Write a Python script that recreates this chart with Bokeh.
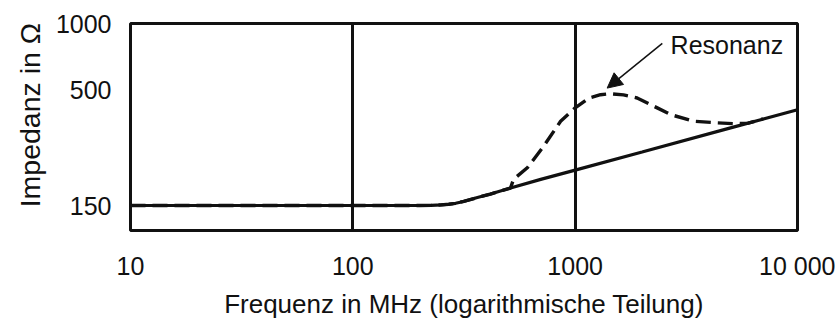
from bokeh.plotting import figure
from bokeh.models import FixedTicker, Arrow, NormalHead, Label
from bokeh.embed import file_html
from bokeh.resources import INLINE

# frequency axis (MHz) and impedance (Ohm), log-log
x_ticks = [10, 100, 1000, 10000]
x_tick_labels = ["10", "100", "1000", "10 000"]
y_ticks = [150, 500, 1000]
y_tick_labels = ["150", "500", "1000"]
grid_freqs = [100, 1000]

solid_f = [10, 100, 200, 225, 250, 270, 290, 315, 360, 416, 512, 700, 1000, 2000, 5000, 10000]
solid_z = [150, 150, 150, 150.3, 151, 152, 153.5, 156.5, 162.5, 169, 180, 197, 217, 262, 337, 407]

dashed_f = [10, 100, 200, 225, 250, 270, 290, 315, 360, 416, 512, 528, 611, 721, 860, 1000,
            1154, 1300, 1443, 1650, 1900, 2339, 2686, 3411, 4355, 5200, 6000, 7000]
dashed_z = [150, 150, 150, 150.3, 151, 152, 153.5, 156.5, 162.5, 169, 180, 197, 223, 278, 361, 415,
            460, 476, 481, 475, 460, 415, 387, 361, 355, 352, 354, 370]

annot_text = "Resonanz"
annot_pos = (2686, 799)
arrow_start = (2466, 813)
arrow_end = (1393, 510)

FONT = "Liberation Sans"
INK = "#111111"

p = figure(width=835, height=321, x_axis_type="log", y_axis_type="log",
           x_range=(10, 10000), y_range=(115.6, 1000),
           output_backend="svg", toolbar_location=None,
           min_border_left=130, min_border_right=38, min_border_top=23,
           min_border_bottom=89)

p.outline_line_color = INK
p.outline_line_width = 3
p.background_fill_color = "white"
p.border_fill_color = "white"

p.xgrid.ticker = FixedTicker(ticks=grid_freqs)
p.xgrid.grid_line_color = INK
p.xgrid.grid_line_width = 3
p.xgrid.minor_grid_line_color = None
p.ygrid.grid_line_color = None

p.xaxis.ticker = FixedTicker(ticks=x_ticks)
p.xaxis.major_label_overrides = {t: l for t, l in zip(x_ticks, x_tick_labels)}
p.yaxis.ticker = FixedTicker(ticks=y_ticks)
p.yaxis.major_label_overrides = {t: l for t, l in zip(y_ticks, y_tick_labels)}

for ax in (p.xaxis[0], p.yaxis[0]):
    ax.axis_line_color = None
    ax.major_tick_line_color = None
    ax.minor_tick_line_color = None
    ax.major_tick_out = 0
    ax.major_tick_in = 0
    ax.minor_tick_out = 0
    ax.minor_tick_in = 0
    ax.major_label_text_font = FONT
    ax.major_label_text_font_size = "25px"
    ax.major_label_text_color = INK
    ax.axis_label_text_font = FONT
    ax.axis_label_text_font_style = "normal"
    ax.axis_label_text_color = INK

p.xaxis.axis_label = "Frequenz in MHz (logarithmische Teilung)"
p.xaxis.axis_label_text_font_size = "26px"
p.xaxis.major_label_standoff = 21
p.xaxis.axis_label_standoff = 6
p.yaxis.axis_label = "\u00a0\u00a0\u00a0Impedanz in \u03a9"
p.yaxis.axis_label_text_font_size = "28.5px"
p.yaxis.major_label_standoff = 19
p.yaxis.axis_label_standoff = 7

p.line(solid_f, solid_z, line_color=INK, line_width=3.2)
p.line(dashed_f, dashed_z, line_color=INK, line_width=3.4, line_dash="15 7")

p.add_layout(Arrow(end=NormalHead(size=15, fill_color=INK, line_color=INK),
                   x_start=arrow_start[0], y_start=arrow_start[1],
                   x_end=arrow_end[0], y_end=arrow_end[1],
                   line_color=INK, line_width=1.5))
p.add_layout(Label(x=annot_pos[0], y=annot_pos[1], text=annot_text,
                   text_font=FONT, text_font_size="25px", text_color=INK,
                   text_baseline="middle", text_align="left"))

open("out.html", "w").write(file_html(p, INLINE))
